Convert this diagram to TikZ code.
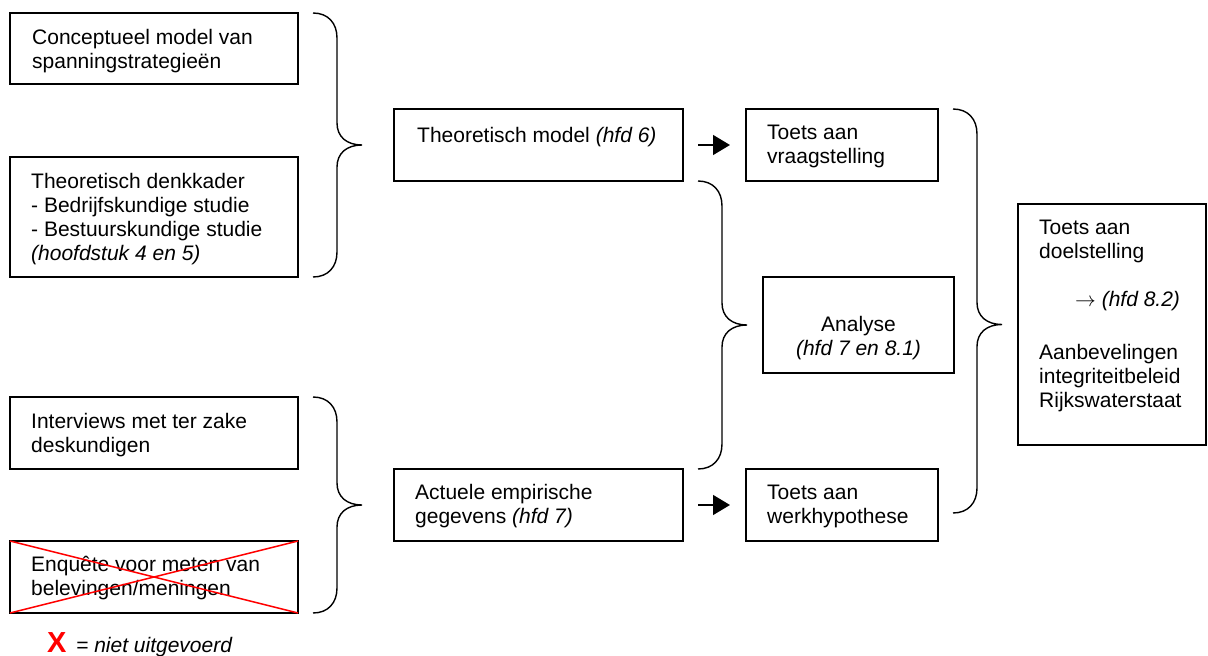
\documentclass[tikz,border=0pt]{standalone}
\usepackage{fontspec}
\setmainfont{Liberation Sans}
\usetikzlibrary{arrows.meta,calc}

% curly brace that gathers the span from #1 (top) to #2 (bottom) and points at #3
\newcommand\groupbrace[3]{%
  \draw[bracestyle] let \p1=#1, \p2=#2, \p3=#3 in
    (\x1,\y1) .. controls (\x1+15pt,\y1) and (\x1+24pt,\y1-10pt) .. (\x1+24pt,\y1-25pt)
    -- (\x1+24pt,\y3+22pt) .. controls (\x1+24pt,\y3+8pt) and (\x1+34pt,\y3) .. (\x1+49pt,\y3)
    .. controls (\x1+34pt,\y3) and (\x1+24pt,\y3-8pt) .. (\x1+24pt,\y3-22pt)
    -- (\x1+24pt,\y2+25pt) .. controls (\x1+24pt,\y2+10pt) and (\x1+15pt,\y2) .. (\x1,\y2);}

\begin{document}
\begin{tikzpicture}[x=1pt,y=-1pt,
  box/.style={draw,line width=1.6pt,inner sep=0pt,outer sep=0pt},
  % multi-line texts are anchored at the baseline of their last line
  txt/.style={anchor=base west,inner sep=0pt,align=left,font=\fontsize{21}{24}\selectfont},
  ctxt/.style={anchor=base,inner sep=0pt,align=center,font=\fontsize{21}{24}\selectfont},
  bracestyle/.style={line width=1.4pt},
  flow/.style={line width=1.5pt,-{Triangle[length=17pt,width=20pt]}},
  cross/.style={red,line width=1.5pt}]
\useasboundingbox (0,0) rectangle (1208,656);

% boxes
\node[box,minimum width=288pt,minimum height=71pt]  (A) at (154,48.5) {};
\node[box,minimum width=288pt,minimum height=120pt] (B) at (154,217) {};
\node[box,minimum width=289pt,minimum height=72pt]  (C) at (538.5,145) {};
\node[box,minimum width=192pt,minimum height=72pt]  (D) at (842,145) {};
\node[box,minimum width=191pt,minimum height=96pt]  (E) at (858.5,325) {};
\node[box,minimum width=188pt,minimum height=241pt] (F) at (1112,324.5) {};
\node[box,minimum width=288pt,minimum height=72pt]  (G) at (154,433) {};
\node[box,minimum width=288pt,minimum height=72pt]  (H) at (154,577) {};
\node[box,minimum width=289pt,minimum height=72pt]  (I) at (538.5,505) {};
\node[box,minimum width=192pt,minimum height=72pt]  (J) at (842,505) {};

% box texts
\node[txt] (At) at ([shift={(22,55)}]A.north west) {Conceptueel model van\\spanningstrategieën};
\node[txt] (Bt) at ([shift={(21,103)}]B.north west) {Theoretisch denkkader\\- Bedrijfskundige studie\\- Bestuurskundige studie\\\textit{(hoofdstuk 4 en 5)}};
\node[txt] (Ct) at ([shift={(23,33)}]C.north west) {Theoretisch model \textit{(hfd 6)}};
\node[txt] (Dt) at ([shift={(21,54)}]D.north west) {Toets aan\\vraagstelling};
\node[ctxt] (Et) at ([shift={(0,78)}]E.north) {Analyse\\\textit{(hfd 7 en 8.1)}};
\node[txt] (Ft) at ([shift={(21,203)}]F.north west) {Toets aan\\doelstelling\\[24pt]\hspace*{36pt}$\rightarrow$ \textit{(hfd 8.2)}\\[29pt]Aanbevelingen\\integriteitbeleid\\Rijkswaterstaat};
\node[txt] (Gt) at ([shift={(21,55)}]G.north west) {Interviews met ter zake\\deskundigen};
\node[txt] (Ht) at ([shift={(21,54)}]H.north west) {Enquête voor meten van\\belevingen/meningen};
\node[txt] (It) at ([shift={(21,54)}]I.north west) {Actuele empirische\\gegevens \textit{(hfd 7)}};
\node[txt] (Jt) at ([shift={(21,54)}]J.north west) {Toets aan\\werkhypothese};

% struck-out survey
\draw[cross] (H.north west) -- (H.south east);
\draw[cross] (H.south west) -- (H.north east);

% arrows
\draw[flow] ([xshift=15pt]C.east) -- ([xshift=-16pt]D.west);
\draw[flow] ([xshift=15pt]I.east) -- ([xshift=-16pt]J.west);

% braces
\groupbrace{([xshift=15pt]A.north east)}{([xshift=15pt]B.south east)}{(C.west)}
\groupbrace{([xshift=15pt]G.north east)}{([xshift=15pt]H.south east)}{(I.west)}
\groupbrace{([xshift=15pt]C.south east)}{([xshift=15pt]I.north east)}{(E.west)}
\groupbrace{([xshift=15pt]D.north east)}{([xshift=15pt,yshift=-8pt]J.east)}{(F.west)}

% legend
\node[anchor=base west,inner sep=0pt,text=red,font=\fontsize{29}{30}\selectfont\bfseries] (Lx) at (47,652) {X};
\node[anchor=base west,inner sep=0pt,font=\fontsize{21}{24}\selectfont\itshape] (Lt) at (76,652) {= niet uitgevoerd};
\end{tikzpicture}
\end{document}
